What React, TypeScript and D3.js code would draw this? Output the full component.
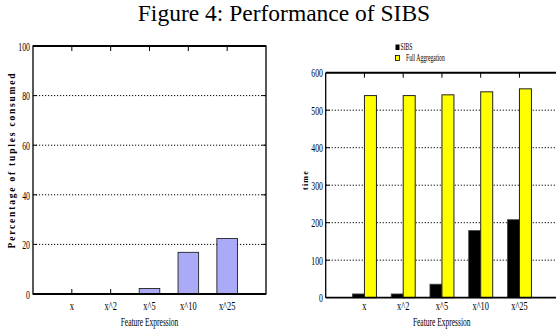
import React from "react";
import * as d3 from "d3";

const categories = ["x", "x^2", "x^5", "x^10", "x^25"];
const pctConsumed = [0.2, 0.1, 2.2, 16.8, 22.4];
const sibsTime = [10, 10, 36, 179, 208];
const fullAggTime = [539, 539, 541, 549, 557];
const leftTicks = [0, 20, 40, 60, 80, 100];
const rightTicks = [0, 100, 200, 300, 400, 500, 600];

const SERIF = "'Times New Roman', 'Liberation Serif', 'DejaVu Serif', serif";

function CText({ x, y, anchor = "middle", sx = 0.62, size = 13, children, ...rest }: any) {
  return (
    <text
      transform={`translate(${x},${y}) scale(${sx},1)`}
      textAnchor={anchor}
      fontFamily={SERIF}
      fontSize={size}
      fill="#000"
      {...rest}
    >
      {children}
    </text>
  );
}

export default function App() {
  // left chart
  const L = { left: 33, right: 266, top: 46, bottom: 294 };
  const lx = d3.scaleLinear().domain([0, 6]).range([L.left, L.right]);
  const ly = d3.scaleLinear().domain([0, 100]).range([L.bottom, L.top]);
  const lbw = (lx(1) - lx(0)) * 0.53;

  // right chart
  const R = { left: 325.7, top: 72.7, bottom: 297.7 };
  const unitR = 38.75;
  const rx = d3.scaleLinear().domain([0, 6]).range([R.left, R.left + 6 * unitR]);
  const ry = d3.scaleLinear().domain([0, 600]).range([R.bottom, R.top]);
  const rbw = 12;
  const rRight = rx(6);

  return (
    <svg
      width={556}
      height={336}
      style={{ position: "absolute", left: 0, top: 0, background: "#fff" }}
    >
      <rect width={556} height={336} fill="#fff" />
      <text x={284} y={21} textAnchor="middle" fontFamily={SERIF} fontSize={23.5} fill="#000">
        Figure 4: Performance of SIBS
      </text>

      {/* LEFT CHART */}
      {leftTicks.slice(1, -1).map((t) => (
        <line key={"lg" + t} x1={L.left} x2={L.right} y1={ly(t)} y2={ly(t)} stroke="#000" strokeDasharray="1.2,1.8" strokeWidth={1} />
      ))}
      {leftTicks.slice(1, -1).map((t) => (
        <g key={"lt" + t}>
          <line x1={L.left} x2={L.left + 4} y1={ly(t)} y2={ly(t)} stroke="#000" />
          <line x1={L.right - 4} x2={L.right} y1={ly(t)} y2={ly(t)} stroke="#000" />
        </g>
      ))}
      {categories.map((c, i) => (
        <g key={"lc" + c}>
          <line x1={lx(i + 1)} x2={lx(i + 1)} y1={L.top} y2={L.top + 5} stroke="#000" />
          <line x1={lx(i + 1)} x2={lx(i + 1)} y1={L.bottom} y2={L.bottom - 5} stroke="#000" />
        </g>
      ))}
      {pctConsumed.map((v, i) => (
        <rect
          key={"lb" + i}
          x={lx(i + 1) - lbw / 2}
          y={ly(v)}
          width={lbw}
          height={ly(0) - ly(v)}
          fill="#aaaaf6"
          stroke="#222"
          strokeWidth={0.9}
        />
      ))}
      <rect x={L.left} y={L.top} width={L.right - L.left} height={L.bottom - L.top} fill="none" stroke="#000" strokeWidth={1.3} />
      <line x1={L.left} x2={L.right} y1={L.top} y2={L.top} stroke="#000" strokeWidth={2} />
      <line x1={L.left} x2={L.right} y1={L.bottom} y2={L.bottom} stroke="#000" strokeWidth={1.8} />
      {leftTicks.map((t) => (
        <CText key={"lyl" + t} x={30} y={ly(t) + 4.7} anchor="end" size={13.5} sx={0.58}>
          {t}
        </CText>
      ))}
      {categories.map((c, i) => (
        <CText key={"lxl" + c} x={lx(i + 1)} y={310} size={13.5} sx={0.62}>
          {c}
        </CText>
      ))}
      <CText x={(L.left + L.right) / 2} y={326} size={12.5} sx={0.6}>
        Feature Expression
      </CText>
      <text
        transform={`translate(14.5,160) rotate(-90)`}
        textAnchor="middle"
        fontFamily={SERIF}
        fontWeight="bold"
        fontSize={9.5}
        letterSpacing={1.8}
        fill="#000"
      >
        Percentage of tuples consumed
      </text>

      {/* RIGHT CHART */}
      {rightTicks.slice(1, -1).map((t) => (
        <line key={"rg" + t} x1={R.left} x2={rRight} y1={ry(t)} y2={ry(t)} stroke="#000" strokeDasharray="1.2,1.8" strokeWidth={1} />
      ))}
      {rightTicks.slice(1, -1).map((t) => (
        <line key={"rt" + t} x1={R.left} x2={R.left + 4} y1={ry(t)} y2={ry(t)} stroke="#000" />
      ))}
      {categories.map((c, i) => (
        <g key={"rc" + c}>
          <line x1={rx(i + 1)} x2={rx(i + 1)} y1={R.top} y2={R.top + 5} stroke="#000" />
        </g>
      ))}
      {sibsTime.map((v, i) => (
        <rect
          key={"rs" + i}
          x={rx(i + 1) - rbw}
          y={ry(v)}
          width={rbw}
          height={ry(0) - ry(v)}
          fill="#000"
          stroke="#444"
          strokeWidth={0.8}
        />
      ))}
      {fullAggTime.map((v, i) => (
        <rect
          key={"rf" + i}
          x={rx(i + 1)}
          y={ry(v)}
          width={rbw}
          height={ry(0) - ry(v)}
          fill="#ffff00"
          stroke="#222"
          strokeWidth={1}
        />
      ))}
      <line x1={R.left} x2={R.left} y1={R.top} y2={R.bottom} stroke="#000" strokeWidth={1.3} />
      <line x1={R.left} x2={rRight} y1={R.top} y2={R.top} stroke="#000" strokeWidth={2} />
      <line x1={R.left} x2={rRight} y1={R.bottom} y2={R.bottom} stroke="#000" strokeWidth={1.8} />
      {rightTicks.map((t) => (
        <CText key={"ryl" + t} x={323} y={ry(t) + 4.7} anchor="end" size={13.5} sx={0.58}>
          {t}
        </CText>
      ))}
      {categories.map((c, i) => (
        <CText key={"rxl" + c} x={rx(i + 1)} y={310} size={13.5} sx={0.62}>
          {c}
        </CText>
      ))}
      <CText x={441.7} y={326} size={12.5} sx={0.6}>
        Feature Expression
      </CText>
      <text
        transform={`translate(308,180) rotate(-90)`}
        textAnchor="middle"
        fontFamily={SERIF}
        fontWeight="bold"
        fontSize={8}
        letterSpacing={1.2}
        fill="#000"
      >
        time
      </text>

      {/* legend */}
      <rect x={395.5} y={44.5} width={4} height={5.5} fill="#000" />
      <CText x={400.5} y={50} anchor="start" size={9.5} sx={0.6}>SIBS</CText>
      <rect x={395.5} y={55.5} width={4} height={5} fill="#ffff00" stroke="#000" strokeWidth={0.8} />
      <CText x={406} y={61} anchor="start" size={9.5} sx={0.6}>Full Aggregation</CText>
    </svg>
  );
}
